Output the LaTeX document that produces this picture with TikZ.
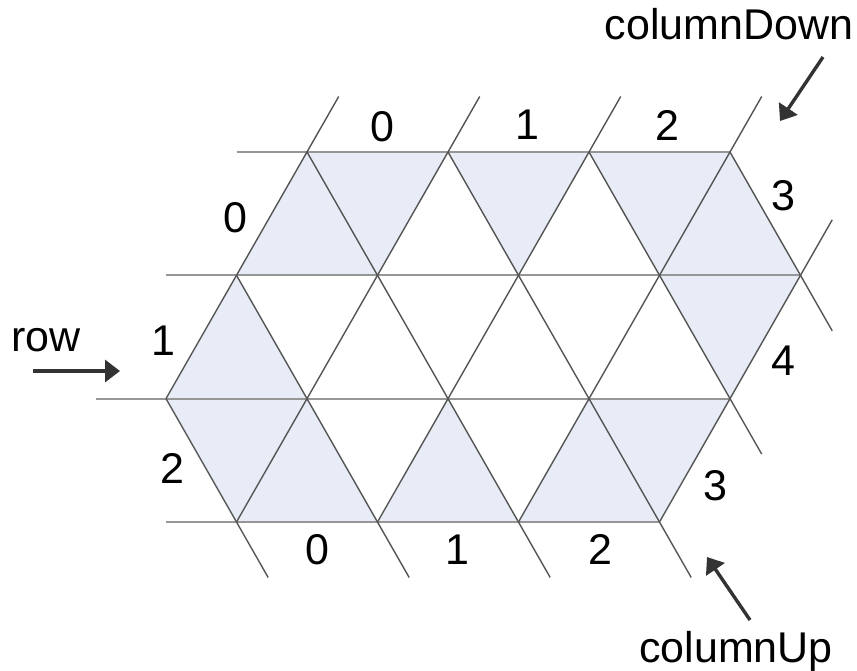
\documentclass[tikz,border=0pt]{standalone}
\usepackage{fontspec}
\setmainfont{Liberation Sans}
\usetikzlibrary{arrows.meta,calc}
\definecolor{cellfill}{RGB}{232,236,246}
\definecolor{hline}{RGB}{150,150,150}
\definecolor{dline}{RGB}{85,85,85}
\definecolor{arrowc}{RGB}{51,51,51}
\begin{document}
\begin{tikzpicture}[x=0.5pt,y=-0.5pt,
  lbl/.style={font=\fontsize{21.5}{25}\selectfont, inner sep=0pt},
  cell/.style={fill=cellfill},
  hl/.style={draw=hline, line width=1pt},
  dl/.style={draw=dline, line width=0.7pt},
  ptr/.style={draw=arrowc, line width=1.7pt, -{Triangle[length=7.5pt,width=11pt]}}]
\useasboundingbox (0,0) rectangle (857,670);
% lattice vertices
\foreach \k in {0,...,3} \coordinate (v0-\k) at ({307+141*\k},152);
\foreach \k in {0,...,4} \coordinate (v1-\k) at ({236.5+141*\k},275.3);
\foreach \k in {0,...,4} \coordinate (v2-\k) at ({166+141*\k},398.6);
\foreach \k in {0,...,3} \coordinate (v3-\k) at ({236.5+141*\k},522);
% shaded cells
\fill[cell] (v1-0) -- (v0-0) -- (v1-1) -- cycle;
\fill[cell] (v0-0) -- (v0-1) -- (v1-1) -- cycle;
\fill[cell] (v0-1) -- (v0-2) -- (v1-2) -- cycle;
\fill[cell] (v0-2) -- (v0-3) -- (v1-3) -- cycle;
\fill[cell] (v1-3) -- (v0-3) -- (v1-4) -- cycle;
\fill[cell] (v2-0) -- (v1-0) -- (v2-1) -- cycle;
\fill[cell] (v1-3) -- (v1-4) -- (v2-4) -- cycle;
\fill[cell] (v2-0) -- (v2-1) -- (v3-0) -- cycle;
\fill[cell] (v3-0) -- (v2-1) -- (v3-1) -- cycle;
\fill[cell] (v3-1) -- (v2-2) -- (v3-2) -- cycle;
\fill[cell] (v3-2) -- (v2-3) -- (v3-3) -- cycle;
\fill[cell] (v2-3) -- (v2-4) -- (v3-3) -- cycle;
% free ends
\coordinate (h0) at ($(v0-0)+(-70.5,0)$);
\coordinate (h1) at ($(v1-0)+(-70.5,0)$);
\coordinate (h2) at ($(v2-0)+(-70.5,0)$);
\coordinate (h3) at ($(v3-0)+(-70.5,0)$);
\coordinate (uA) at ($(v0-0)+(31.7,-55.5)$);
\coordinate (uB) at ($(v0-1)+(31.7,-55.5)$);
\coordinate (uC) at ($(v0-2)+(31.7,-55.5)$);
\coordinate (uD) at ($(v0-3)+(31.7,-55.5)$);
\coordinate (uE) at ($(v1-4)+(31.7,-55.5)$);
\coordinate (d0) at ($(v3-0)+(31.7,55.5)$);
\coordinate (d1) at ($(v3-1)+(31.7,55.5)$);
\coordinate (d2) at ($(v3-2)+(31.7,55.5)$);
\coordinate (d3) at ($(v3-3)+(31.7,55.5)$);
\coordinate (d4) at ($(v2-4)+(31.7,55.5)$);
\coordinate (d5) at ($(v1-4)+(31.7,55.5)$);
% horizontal lines
\draw[hl] (h0) -- (v0-3);
\draw[hl] (h1) -- (v1-4);
\draw[hl] (h2) -- (v2-4);
\draw[hl] (h3) -- (v3-3);
% rising lines
\draw[dl] (v2-0) -- (uA);
\draw[dl] (v3-0) -- (uB);
\draw[dl] (v3-1) -- (uC);
\draw[dl] (v3-2) -- (uD);
\draw[dl] (v3-3) -- (uE);
% falling lines
\draw[dl] (v2-0) -- (d0);
\draw[dl] (v1-0) -- (d1);
\draw[dl] (v0-0) -- (d2);
\draw[dl] (v0-1) -- (d3);
\draw[dl] (v0-2) -- (d4);
\draw[dl] (v0-3) -- (d5);
% labels
\node[lbl] (ct0) at (382,127) {0};
\node[lbl] (ct1) at (527,125) {1};
\node[lbl] (ct2) at (667,125) {2};
\node[lbl] (ct3) at (783,196) {3};
\node[lbl] (r0) at (235,218) {0};
\node[lbl] (r1) at (163,341) {1};
\node[lbl] (r2) at (172,468) {2};
\node[lbl] (c4) at (783,361) {4};
\node[lbl] (cb3) at (715,486) {3};
\node[lbl] (cb0) at (317,550) {0};
\node[lbl] (cb1) at (457,550) {1};
\node[lbl] (cb2) at (600,549) {2};
\node[lbl] (rw) at (46,340) {row};
\node[lbl, anchor=base] (cd) at (729,39) {columnDown};
\node[lbl, anchor=base] (cu) at (736,662) {columnUp};
% pointers
\coordinate (rowS) at (33,371);
\coordinate (rowE) at (120,371);
\coordinate (cdS) at (823,57);
\coordinate (cdE) at (780,121);
\coordinate (cuS) at (750,620);
\coordinate (cuE) at (707,557);
\draw[ptr] (rowS) -- (rowE);
\draw[ptr] (cdS) -- (cdE);
\draw[ptr] (cuS) -- (cuE);
\end{tikzpicture}
\end{document}
